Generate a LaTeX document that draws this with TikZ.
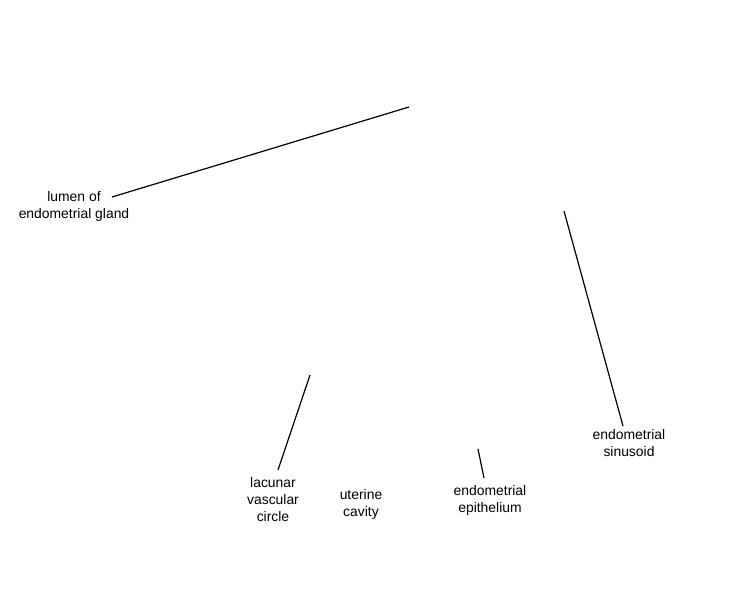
\documentclass[tikz,border=0pt]{standalone}
\usepackage{fontspec}
\setmainfont{Liberation Sans}
\begin{document}
\begin{tikzpicture}[x=1pt,y=-1pt,
  lbl/.style={align=center,inner sep=0pt,font=\fontsize{13.9}{17}\selectfont},
  lead/.style={draw=black,line width=1.2pt}]
\useasboundingbox (0,0) rectangle (750,600);
\node[lbl] (gland) at (74,206.5) {lumen of\\endometrial gland};
\node[lbl] (sinus) at (629,443.5) {endometrial\\sinusoid};
\node[lbl] (lacunar) at (273,499.5) {lacunar\\vascular\\circle};
\node[lbl] (cavity) at (361,504.5) {uterine\\cavity};
\node[lbl] (epi) at (490,500.5) {endometrial\\epithelium};
\coordinate (g1) at (112,197); \coordinate (g2) at (409,107);
\coordinate (s1) at (623,426); \coordinate (s2) at (564,211);
\coordinate (l1) at (278,470); \coordinate (l2) at (310,375);
\coordinate (e1) at (484,478); \coordinate (e2) at (478,449);
\draw[lead] (g1) -- (g2);
\draw[lead] (s1) -- (s2);
\draw[lead] (l1) -- (l2);
\draw[lead] (e1) -- (e2);
\end{tikzpicture}
\end{document}
